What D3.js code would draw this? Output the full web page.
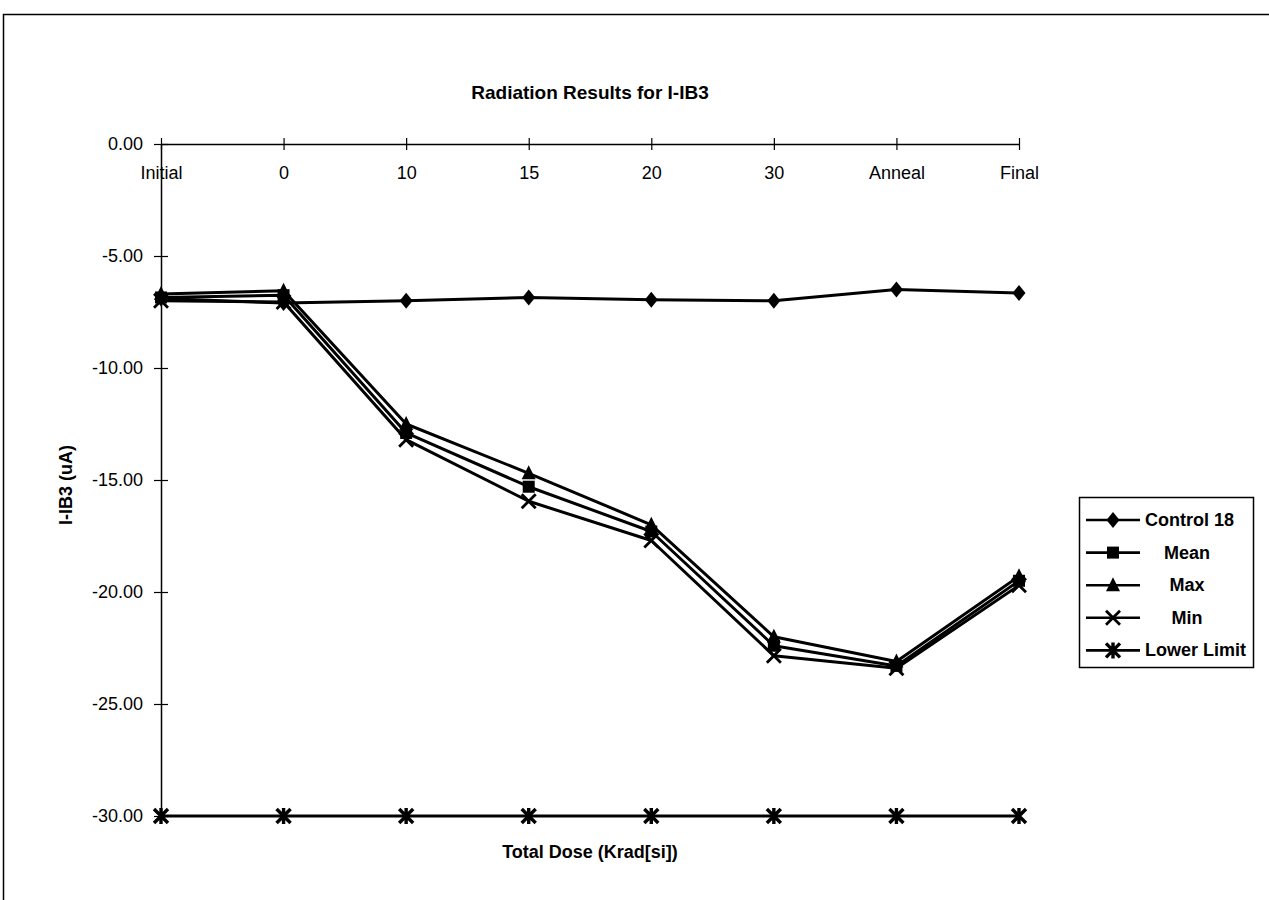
<!DOCTYPE html>
<html>
<head>
<meta charset="utf-8">
<script src="https://cdn.jsdelivr.net/npm/d3@7"></script>
<style>
  html, body { margin: 0; padding: 0; background: #fff; }
  svg { display: block; font-family: Arial, "Liberation Sans", sans-serif; }
</style>
</head>
<body>
<svg id="chart" width="1269" height="900"></svg>
<script>
// Radiation test results for I-IB3 across dose steps
const categories = ["Initial", "0", "10", "15", "20", "30", "Anneal", "Final"];
const control18 = [-6.9, -7.1, -7.0, -6.85, -6.95, -7.0, -6.5, -6.65];
const meanVals  = [-6.85, -6.75, -12.9, -15.3, -17.3, -22.4, -23.3, -19.5];
const maxVals   = [-6.7, -6.55, -12.5, -14.7, -17.0, -22.0, -23.1, -19.3];
const minVals   = [-7.0, -7.05, -13.2, -15.95, -17.7, -22.85, -23.4, -19.7];
const lowerLimit = [-30, -30, -30, -30, -30, -30, -30, -30];
const yTicks = [0, -5, -10, -15, -20, -25, -30];

const series = [
  { name: "Control 18", values: control18, marker: "diamond" },
  { name: "Mean", values: meanVals, marker: "square" },
  { name: "Max", values: maxVals, marker: "triangle" },
  { name: "Min", values: minVals, marker: "x" },
  { name: "Lower Limit", values: lowerLimit, marker: "star" }
];

const FONT = "Arial, 'Liberation Sans', sans-serif";
const svg = d3.select("#chart");

// outer chart frame
svg.append("rect")
  .attr("x", 3.5).attr("y", 14.5)
  .attr("width", 1280).attr("height", 900)
  .attr("fill", "none").attr("stroke", "#000").attr("stroke-width", 1.5);

const x = d3.scalePoint().domain(categories).range([161, 1019]);
const y = d3.scaleLinear().domain([0, -30]).range([144, 816]);

// fixed two-decimal labels with a plain hyphen for negatives
const fmt = d => d.toFixed(2);

// title
svg.append("text")
  .attr("x", 590).attr("y", 99)
  .attr("text-anchor", "middle")
  .attr("font-size", 19).attr("font-weight", "bold")
  .text("Radiation Results for I-IB3");

// y axis
const yAxis = d3.axisLeft(y).tickValues(yTicks).tickFormat(fmt).tickSize(0);
const gy = svg.append("g").attr("transform", "translate(161,0)").call(yAxis);
gy.select(".domain").attr("stroke", "#000").attr("stroke-width", 1.5);
gy.selectAll(".tick line").remove();
gy.selectAll(".tick").append("line")
  .attr("x1", -7).attr("x2", 7).attr("stroke", "#000").attr("stroke-width", 1.2);
gy.selectAll(".tick text")
  .attr("x", -18).attr("font-size", 18).attr("fill", "#000")
  .attr("font-family", FONT);

// x axis along the zero line, labels below it
const xAxis = d3.axisBottom(x).tickSize(0).tickPadding(22);
const gx = svg.append("g").attr("transform", `translate(0,${y(0)})`).call(xAxis);
gx.select(".domain").attr("stroke", "#000").attr("stroke-width", 1.5);
gx.selectAll(".tick line").remove();
gx.selectAll(".tick").append("line")
  .attr("y1", -6).attr("y2", 6).attr("stroke", "#000").attr("stroke-width", 1.2);
gx.selectAll(".tick text")
  .attr("font-size", 18).attr("fill", "#000")
  .attr("font-family", FONT);

// axis titles
svg.append("text")
  .attr("x", 590).attr("y", 858)
  .attr("text-anchor", "middle")
  .attr("font-size", 18).attr("font-weight", "bold")
  .text("Total Dose (Krad[si])");

svg.append("text")
  .attr("transform", "translate(72,485) rotate(-90)")
  .attr("text-anchor", "middle")
  .attr("font-size", 18).attr("font-weight", "bold")
  .text("I-IB3 (uA)");

// marker drawing
function drawMarker(g, type, cx, cy) {
  if (type === "diamond") {
    g.append("path").attr("d", `M${cx},${cy - 8}L${cx + 6.5},${cy}L${cx},${cy + 8}L${cx - 6.5},${cy}Z`).attr("fill", "#000");
  } else if (type === "square") {
    g.append("rect").attr("x", cx - 6).attr("y", cy - 6).attr("width", 12).attr("height", 12).attr("fill", "#000");
  } else if (type === "triangle") {
    g.append("path").attr("d", `M${cx},${cy - 8}L${cx + 7},${cy + 6}L${cx - 7},${cy + 6}Z`).attr("fill", "#000");
  } else if (type === "x") {
    g.append("path").attr("d", `M${cx - 7},${cy - 7}L${cx + 7},${cy + 7}M${cx + 7},${cy - 7}L${cx - 7},${cy + 7}`)
      .attr("stroke", "#000").attr("stroke-width", 2.8);
  } else if (type === "star") {
    g.append("path").attr("d", `M${cx - 7},${cy - 7}L${cx + 7},${cy + 7}M${cx + 7},${cy - 7}L${cx - 7},${cy + 7}M${cx},${cy - 8}L${cx},${cy + 8}`)
      .attr("stroke", "#000").attr("stroke-width", 3.4);
  }
}

const line = d3.line().x((d, i) => x(categories[i])).y(d => y(d));

const plot = svg.append("g");
series.forEach(s => {
  plot.append("path")
    .datum(s.values)
    .attr("d", line)
    .attr("fill", "none")
    .attr("stroke", "#000")
    .attr("stroke-width", 3)
    .attr("stroke-linejoin", "round");
});
series.forEach(s => {
  s.values.forEach((v, i) => drawMarker(plot, s.marker, x(categories[i]), y(v)));
});

// legend
const legend = svg.append("g");
legend.append("rect")
  .attr("x", 1079.5).attr("y", 497.5).attr("width", 174).attr("height", 170)
  .attr("fill", "#fff").attr("stroke", "#000").attr("stroke-width", 1.5);
series.forEach((s, i) => {
  const ly = 520 + i * 32.6;
  legend.append("line")
    .attr("x1", 1086).attr("x2", 1140).attr("y1", ly).attr("y2", ly)
    .attr("stroke", "#000").attr("stroke-width", 2.6);
  drawMarker(legend, s.marker, 1113, ly);
  const left = s.name === "Lower Limit" || s.name === "Control 18";
  legend.append("text")
    .attr("x", left ? 1145 : 1187)
    .attr("y", ly + 6)
    .attr("text-anchor", left ? "start" : "middle")
    .attr("font-size", 18).attr("font-weight", "bold")
    .text(s.name);
});
</script>
</body>
</html>
